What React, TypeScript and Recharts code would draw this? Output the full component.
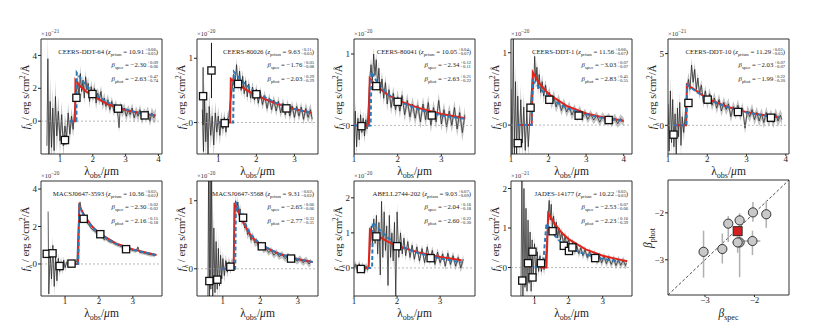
import React from 'react'
import { ComposedChart, Line, Area, Scatter, XAxis, YAxis, ReferenceLine, ReferenceArea, ErrorBar } from 'recharts'

type Pt = [number, number, number]
type XY = [number, number]

const FONT = '"Liberation Serif", "DejaVu Serif", serif'
const RED = '#e2231a'
const BLUE = '#2b7bba'

// spectra: [lambda_obs (um), f_lambda, 1 sigma]
const spec64: Pt[] = [
  [0.6, -1.5, 2], [0.63, 3.8, 1.5], [0.66, -2.2, 1.8], [0.7, 1.2, 1.5], [0.74, -1.6, 1.5], [0.78, 0.8, 1.2],
  [0.82, -1.8, 1.2], [0.86, 1.5, 1], [0.9, -0.9, 1], [0.95, 0.6, 0.9], [1.0, -1.2, 0.8], [1.05, 0.4, 0.8],
  [1.1, -1.5, 0.7], [1.15, -0.3, 0.7], [1.2, -1.0, 0.6], [1.25, 0.5, 0.6], [1.3, -0.8, 0.5], [1.35, 0.3, 0.5],
  [1.4, -0.5, 0.5], [1.45, 0.8, 0.5], [1.5, 1.8, 0.5], [1.54, 2.4, 0.5], [1.58, 1.5, 0.5], [1.62, 2.9, 0.5],
  [1.66, 1.8, 0.4], [1.7, 2.5, 0.4], [1.74, 1.4, 0.4], [1.78, 2.7, 0.4], [1.82, 1.9, 0.4], [1.86, 2.3, 0.4],
  [1.9, 1.2, 0.4], [1.95, 2.1, 0.4], [2.0, 1.5, 0.4], [2.05, 2.0, 0.4], [2.1, 1.1, 0.4], [2.15, 1.7, 0.35],
  [2.2, 1.3, 0.35], [2.25, 1.8, 0.35], [2.3, 1.0, 0.35], [2.35, 1.4, 0.35], [2.4, 0.9, 0.35], [2.46, 1.3, 0.35],
  [2.52, 0.7, 0.3], [2.58, 1.2, 0.3], [2.64, 0.6, 0.3], [2.7, 1.0, 0.3], [2.76, 0.5, 0.3], [2.8, -0.4, 0.3],
  [2.84, 0.9, 0.3], [2.9, 0.5, 0.3], [2.96, 0.8, 0.3], [3.02, 0.3, 0.3], [3.08, 0.7, 0.3], [3.14, 0.4, 0.3],
  [3.2, 0.8, 0.3], [3.26, 0.2, 0.3], [3.32, 0.6, 0.3], [3.38, 0.3, 0.3], [3.44, 0.7, 0.3], [3.5, 0.1, 0.3],
  [3.56, 0.5, 0.3], [3.62, 0.3, 0.3], [3.68, 0.6, 0.3], [3.74, 0.0, 0.3], [3.8, 0.5, 0.35], [3.86, 0.2, 0.35],
  [3.92, 0.4, 0.4],
]
const spec80026: Pt[] = [
  [0.58, 0.2, 0.3], [0.61, -0.45, 0.3], [0.64, 0.35, 0.3], [0.67, -0.3, 0.3], [0.7, 0.15, 0.25], [0.73, -0.5, 0.25],
  [0.76, 0.25, 0.25], [0.8, -0.2, 0.2], [0.84, 0.1, 0.2], [0.88, -0.35, 0.2], [0.92, 0.15, 0.18], [0.96, -0.15, 0.18],
  [1.0, 0.1, 0.15], [1.04, -0.2, 0.15], [1.08, 0.05, 0.12], [1.12, -0.1, 0.12], [1.16, 0.08, 0.1], [1.2, -0.15, 0.1],
  [1.24, 0.05, 0.1], [1.28, 0.1, 0.1], [1.32, 0.35, 0.1], [1.36, 0.5, 0.1], [1.4, 0.75, 0.1], [1.44, 0.6, 0.1],
  [1.48, 0.9, 0.1], [1.52, 0.55, 0.1], [1.56, 0.8, 0.1], [1.6, 0.5, 0.1], [1.64, 0.72, 0.1], [1.68, 0.45, 0.1],
  [1.72, 0.65, 0.09], [1.76, 0.4, 0.09], [1.8, 0.6, 0.09], [1.85, 0.38, 0.09], [1.9, 0.55, 0.09], [1.95, 0.35, 0.09],
  [2.0, 0.52, 0.08], [2.05, 0.3, 0.08], [2.1, 0.48, 0.08], [2.16, 0.28, 0.08], [2.22, 0.42, 0.08], [2.28, 0.22, 0.08],
  [2.34, 0.38, 0.08], [2.4, 0.2, 0.08], [2.46, 0.35, 0.08], [2.52, 0.18, 0.08], [2.58, 0.33, 0.08], [2.64, 0.15, 0.08],
  [2.7, 0.3, 0.08], [2.76, 0.12, 0.08], [2.82, 0.28, 0.08], [2.88, 0.1, 0.08], [2.94, 0.26, 0.08], [3.0, 0.08, 0.08],
  [3.06, 0.25, 0.08], [3.12, 0.1, 0.08], [3.18, 0.24, 0.08], [3.24, 0.05, 0.08], [3.3, 0.22, 0.09], [3.36, 0.08, 0.09],
  [3.42, 0.2, 0.1], [3.47, 0.05, 0.1],
]
const spec80041: Pt[] = [
  [1.0, -0.45, 0.15], [1.03, 0.2, 0.15], [1.06, -0.3, 0.15], [1.09, 0.1, 0.12], [1.12, -0.2, 0.12], [1.15, 0.15, 0.1],
  [1.18, -0.1, 0.1], [1.21, 0.1, 0.1], [1.24, -0.15, 0.1], [1.27, 0.08, 0.1], [1.3, -0.05, 0.1], [1.33, 0.3, 0.1],
  [1.36, 0.65, 0.1], [1.39, 0.85, 0.1], [1.42, 0.6, 0.1], [1.45, 1.0, 0.1], [1.48, 0.7, 0.1], [1.51, 0.92, 0.1],
  [1.54, 0.55, 0.1], [1.57, 0.8, 0.1], [1.6, 0.45, 0.1], [1.64, 0.65, 0.1], [1.68, 0.38, 0.1], [1.72, 0.6, 0.1],
  [1.76, 0.3, 0.1], [1.8, 0.5, 0.1], [1.85, 0.25, 0.1], [1.9, 0.45, 0.1], [1.95, 0.22, 0.1], [2.0, 0.4, 0.1],
  [2.05, 0.2, 0.1], [2.1, 0.42, 0.1], [2.16, 0.15, 0.1], [2.22, 0.35, 0.1], [2.28, 0.12, 0.1], [2.34, 0.3, 0.1],
  [2.4, 0.1, 0.1], [2.46, 0.28, 0.1], [2.52, 0.05, 0.1], [2.58, 0.3, 0.1], [2.64, 0.08, 0.1], [2.7, 0.32, 0.1],
  [2.76, 0.0, 0.1], [2.82, 0.25, 0.1], [2.88, 0.05, 0.1], [2.94, 0.35, 0.1], [3.0, 0.02, 0.1], [3.06, 0.22, 0.1],
  [3.12, -0.02, 0.1], [3.18, 0.2, 0.1], [3.24, 0.0, 0.1], [3.3, 0.25, 0.1], [3.36, -0.05, 0.1], [3.42, 0.18, 0.12],
  [3.48, -0.1, 0.12], [3.54, 0.15, 0.12],
]
const specDDT1: Pt[] = [
  [1.0, 0.5, 0.3], [1.03, -0.45, 0.3], [1.06, 1.2, 0.3], [1.09, -0.4, 0.3], [1.12, 0.6, 0.25], [1.15, -0.45, 0.25],
  [1.18, 0.4, 0.25], [1.22, -0.3, 0.2], [1.26, 0.35, 0.2], [1.3, -0.25, 0.2], [1.34, 0.25, 0.2], [1.38, -0.35, 0.2],
  [1.42, 0.2, 0.15], [1.46, -0.3, 0.15], [1.5, 0.1, 0.15], [1.54, 0.45, 0.1], [1.57, 0.65, 0.1], [1.6, 0.5, 0.1],
  [1.63, 0.95, 0.1], [1.66, 0.6, 0.1], [1.69, 0.8, 0.1], [1.72, 0.5, 0.1], [1.75, 0.7, 0.1], [1.79, 0.45, 0.1],
  [1.83, 0.6, 0.1], [1.87, 0.4, 0.1], [1.92, 0.55, 0.08], [1.97, 0.35, 0.08], [2.02, 0.45, 0.08], [2.08, 0.3, 0.08],
  [2.14, 0.4, 0.08], [2.2, 0.25, 0.08], [2.27, 0.35, 0.08], [2.34, 0.2, 0.07], [2.41, 0.3, 0.07], [2.48, 0.18, 0.07],
  [2.55, 0.26, 0.07], [2.62, 0.14, 0.07], [2.69, 0.22, 0.07], [2.76, 0.12, 0.07], [2.83, 0.2, 0.07], [2.9, 0.1, 0.07],
  [2.97, 0.17, 0.06], [3.04, 0.08, 0.06], [3.12, 0.15, 0.06], [3.2, 0.07, 0.06], [3.28, 0.13, 0.06], [3.36, 0.04, 0.06],
  [3.44, 0.12, 0.06], [3.52, 0.05, 0.06], [3.6, 0.11, 0.06], [3.68, 0.03, 0.06], [3.76, 0.1, 0.06], [3.84, 0.02, 0.06],
  [3.92, 0.09, 0.06], [4.0, 0.04, 0.06],
]
const specDDT10: Pt[] = [
  [1.0, 1.5, 1.0], [1.03, -1.8, 1.0], [1.06, 2.4, 1.0], [1.09, -1.2, 0.9], [1.12, 1.8, 0.9], [1.15, -1.5, 0.9],
  [1.18, 0.8, 0.8], [1.21, -2.0, 0.8], [1.24, 1.2, 0.7], [1.27, -0.8, 0.7], [1.3, 1.6, 0.7], [1.33, -1.4, 0.7],
  [1.36, 0.6, 0.6], [1.4, -0.5, 0.6], [1.44, 0.8, 0.6], [1.48, 2.4, 0.5], [1.52, 3.2, 0.5], [1.56, 2.5, 0.5],
  [1.6, 4.2, 0.5], [1.64, 3.0, 0.5], [1.68, 3.9, 0.5], [1.72, 2.5, 0.4], [1.76, 3.3, 0.4], [1.8, 2.2, 0.4],
  [1.85, 2.8, 0.4], [1.9, 1.6, 0.4], [1.95, 2.4, 0.4], [2.0, 1.5, 0.4], [2.06, 2.2, 0.4], [2.12, 1.4, 0.4],
  [2.18, 1.9, 0.4], [2.24, 1.2, 0.4], [2.3, 1.8, 0.4], [2.36, 1.0, 0.4], [2.42, 1.6, 0.4], [2.48, 1.1, 0.4],
  [2.54, 1.5, 0.4], [2.6, 0.6, 0.4], [2.66, 1.3, 0.4], [2.72, 0.8, 0.4], [2.78, 1.4, 0.4], [2.84, 0.7, 0.4],
  [2.9, 1.2, 0.4], [2.96, -0.2, 0.4], [3.02, 1.0, 0.4], [3.08, 0.6, 0.4], [3.14, 1.1, 0.4], [3.2, 0.4, 0.4],
  [3.26, 0.9, 0.4], [3.32, 0.3, 0.4], [3.38, 0.8, 0.4], [3.44, 0.2, 0.4], [3.5, 0.9, 0.4], [3.56, 0.3, 0.4],
  [3.62, 0.7, 0.4], [3.68, 0.2, 0.4], [3.74, 0.8, 0.4], [3.8, 0.3, 0.4], [3.86, 0.7, 0.4], [3.9, 0.4, 0.4],
]
const spec3593: Pt[] = [
  [0.5, 2.8, 0.5], [0.52, -1.6, 0.5], [0.56, 0.6, 0.5], [0.6, -0.8, 0.5], [0.64, 1.0, 0.5], [0.68, -1.2, 0.5],
  [0.72, 0.4, 0.4], [0.76, -0.9, 0.4], [0.8, 0.3, 0.3], [0.84, -0.4, 0.3], [0.88, 0.1, 0.3], [0.92, -0.3, 0.25],
  [0.96, 0.2, 0.2], [1.0, -0.2, 0.2], [1.05, 0.1, 0.15], [1.1, -0.1, 0.15], [1.15, 0.05, 0.12], [1.2, -0.05, 0.1],
  [1.25, 0.08, 0.1], [1.3, 0.0, 0.1], [1.35, 0.2, 0.1], [1.38, 1.5, 0.1], [1.41, 2.9, 0.1], [1.44, 3.3, 0.1],
  [1.47, 3.0, 0.1], [1.5, 2.8, 0.1], [1.55, 2.6, 0.1], [1.6, 2.4, 0.1], [1.65, 2.2, 0.1], [1.7, 2.1, 0.1],
  [1.75, 1.95, 0.1], [1.8, 1.85, 0.1], [1.85, 1.8, 0.1], [1.9, 1.7, 0.1], [1.95, 1.65, 0.1], [2.0, 1.6, 0.1],
  [2.05, 1.5, 0.1], [2.1, 1.45, 0.1], [2.15, 1.3, 0.1], [2.2, 1.35, 0.1], [2.3, 1.2, 0.1], [2.4, 1.15, 0.1],
  [2.5, 1.05, 0.1], [2.6, 0.98, 0.1], [2.7, 0.9, 0.1], [2.8, 0.82, 0.1], [2.9, 0.8, 0.1], [3.0, 0.72, 0.1],
  [3.1, 0.7, 0.1], [3.15, 0.9, 0.1], [3.2, 0.62, 0.1], [3.3, 0.6, 0.1], [3.4, 0.55, 0.1], [3.5, 0.5, 0.1],
  [3.6, 0.48, 0.1], [3.65, 0.44, 0.1],
]
const spec3568: Pt[] = [
  [0.6, -0.45, 0.3], [0.62, 1.5, 0.3], [0.64, -0.45, 0.3], [0.66, 1.5, 0.3], [0.68, -0.3, 0.3], [0.7, 1.4, 0.3],
  [0.73, -0.45, 0.3], [0.76, 0.6, 0.25], [0.79, -0.35, 0.25], [0.82, 0.4, 0.2], [0.85, -0.3, 0.2], [0.88, 0.3, 0.2],
  [0.91, -0.25, 0.15], [0.94, 0.2, 0.15], [0.97, -0.15, 0.12], [1.0, 0.15, 0.12], [1.04, -0.1, 0.1], [1.08, 0.12, 0.1],
  [1.12, -0.05, 0.08], [1.16, 0.1, 0.08], [1.2, 0.0, 0.08], [1.24, 0.08, 0.08], [1.28, 0.05, 0.08], [1.31, 0.6, 0.08],
  [1.34, 1.0, 0.08], [1.37, 0.85, 0.08], [1.4, 0.98, 0.08], [1.43, 0.8, 0.08], [1.46, 0.88, 0.08], [1.5, 0.7, 0.07],
  [1.54, 0.78, 0.07], [1.58, 0.6, 0.07], [1.62, 0.65, 0.07], [1.66, 0.5, 0.07], [1.7, 0.55, 0.07], [1.75, 0.42, 0.06],
  [1.8, 0.48, 0.06], [1.85, 0.38, 0.06], [1.9, 0.4, 0.06], [1.96, 0.32, 0.05], [2.02, 0.36, 0.05], [2.08, 0.28, 0.05],
  [2.15, 0.3, 0.05], [2.22, 0.24, 0.05], [2.29, 0.27, 0.05], [2.36, 0.2, 0.05], [2.43, 0.24, 0.05], [2.5, 0.18, 0.05],
  [2.58, 0.21, 0.05], [2.66, 0.15, 0.05], [2.74, 0.19, 0.05], [2.82, 0.13, 0.05], [2.9, 0.17, 0.05], [2.98, 0.11, 0.05],
  [3.06, 0.15, 0.05], [3.14, 0.09, 0.05], [3.22, 0.13, 0.05], [3.3, 0.07, 0.05], [3.35, 0.1, 0.05],
]
const spec202: Pt[] = [
  [1.0, 0.0, 0.1], [1.04, 0.1, 0.1], [1.08, -0.08, 0.1], [1.12, 0.12, 0.1], [1.16, -0.05, 0.1], [1.2, 0.08, 0.1],
  [1.24, -0.1, 0.1], [1.28, 0.05, 0.1], [1.32, -0.05, 0.1], [1.36, 0.3, 0.12], [1.4, 1.2, 0.15], [1.43, 0.6, 0.15],
  [1.46, 1.4, 0.15], [1.49, 0.7, 0.15], [1.52, 1.5, 0.15], [1.55, 0.4, 0.2], [1.58, 1.3, 0.2], [1.61, -0.2, 0.25],
  [1.64, 1.9, 0.25], [1.67, 0.3, 0.25], [1.7, 1.6, 0.25], [1.73, 0.5, 0.25], [1.76, 1.2, 0.2], [1.79, -0.5, 0.3],
  [1.82, 1.5, 0.25], [1.85, 0.3, 0.25], [1.88, 1.0, 0.2], [1.91, 0.2, 0.25], [1.94, 1.3, 0.25], [1.97, -0.85, 0.3],
  [2.0, 1.6, 0.25], [2.04, 0.3, 0.2], [2.08, 1.0, 0.15], [2.12, 0.4, 0.15], [2.16, 0.85, 0.15], [2.2, 0.35, 0.15],
  [2.25, 0.75, 0.12], [2.3, 0.3, 0.12], [2.35, 0.65, 0.12], [2.4, 0.25, 0.12], [2.46, 0.6, 0.12], [2.52, 0.2, 0.12],
  [2.58, 0.55, 0.12], [2.64, 0.15, 0.12], [2.7, 0.6, 0.12], [2.76, 0.2, 0.12], [2.82, 0.5, 0.12], [2.88, 0.1, 0.12],
  [2.94, 0.45, 0.12], [3.0, 0.15, 0.12], [3.06, 0.4, 0.12], [3.12, 0.05, 0.12], [3.18, 0.42, 0.12], [3.24, 0.1, 0.12],
  [3.3, 0.35, 0.12], [3.36, 0.05, 0.12], [3.42, 0.3, 0.12], [3.48, 0.0, 0.12], [3.54, 0.25, 0.12],
]
const spec14177: Pt[] = [
  [0.6, -0.75, 0.4], [0.63, 2.3, 0.4], [0.66, -0.75, 0.4], [0.69, 2.0, 0.4], [0.72, -0.5, 0.4], [0.75, 1.5, 0.35],
  [0.78, -0.6, 0.35], [0.81, 1.2, 0.3], [0.84, -0.4, 0.3], [0.87, 0.9, 0.3], [0.9, -0.6, 0.3], [0.93, 0.7, 0.25],
  [0.96, -0.3, 0.25], [1.0, 0.6, 0.2], [1.04, -0.2, 0.2], [1.08, 0.4, 0.2], [1.12, -0.1, 0.15], [1.16, 0.3, 0.15],
  [1.2, -0.1, 0.15], [1.24, 0.2, 0.15], [1.28, -0.05, 0.15], [1.32, 0.2, 0.15], [1.36, 0.6, 0.15], [1.4, 1.3, 0.15],
  [1.43, 1.7, 0.15], [1.46, 1.2, 0.15], [1.49, 1.6, 0.15], [1.52, 1.0, 0.15], [1.56, 1.3, 0.15], [1.6, 0.9, 0.15],
  [1.64, 1.15, 0.12], [1.68, 0.75, 0.12], [1.72, 1.0, 0.12], [1.76, 0.7, 0.12], [1.8, 0.9, 0.12], [1.85, 0.6, 0.12],
  [1.9, 0.8, 0.12], [1.95, 0.5, 0.12], [2.0, 0.72, 0.12], [2.06, 0.45, 0.1], [2.12, 0.65, 0.1], [2.18, 0.4, 0.1],
  [2.24, 0.55, 0.1], [2.3, 0.35, 0.1], [2.36, 0.5, 0.1], [2.42, 0.3, 0.1], [2.48, 0.45, 0.1], [2.55, 0.25, 0.1],
  [2.62, 0.4, 0.1], [2.69, 0.2, 0.1], [2.76, 0.35, 0.1], [2.83, 0.15, 0.1], [2.9, 0.3, 0.1], [2.97, 0.12, 0.1],
  [3.04, 0.28, 0.1], [3.11, 0.1, 0.1], [3.18, 0.25, 0.1], [3.25, 0.08, 0.1], [3.32, 0.22, 0.1], [3.39, 0.05, 0.1],
  [3.46, 0.2, 0.1], [3.53, 0.06, 0.1], [3.6, 0.18, 0.1], [3.67, 0.05, 0.1], [3.7, 0.12, 0.1],
]

// UV slope fits: red = photometric beta, blue dashed = spectroscopic beta
const red64: XY[] = [[1.3, 0], [1.46, 0], [1.47, 2.5], [1.6, 2.15], [1.8, 1.8], [2.0, 1.55], [2.25, 1.25], [2.5, 1.0], [2.75, 0.83], [3.0, 0.68], [3.25, 0.57], [3.5, 0.47], [3.75, 0.39], [3.9, 0.35]]
const blue64: XY[] = [[1.3, 0], [1.5, 0], [1.51, 2.95], [1.7, 2.4], [2.0, 1.75], [2.25, 1.38], [2.5, 1.1], [2.75, 0.88], [3.0, 0.72], [3.25, 0.58], [3.5, 0.48], [3.75, 0.4], [3.9, 0.35]]
const red80026: XY[] = [[1.0, 0], [1.31, 0], [1.33, 0.68], [1.5, 0.6], [1.75, 0.5], [2.0, 0.42], [2.5, 0.3], [3.0, 0.21], [3.45, 0.15]]
const blue80026: XY[] = [[1.0, 0], [1.39, 0], [1.41, 0.79], [1.6, 0.66], [1.8, 0.55], [2.0, 0.46], [2.5, 0.31], [3.0, 0.21], [3.45, 0.15]]
const red80041: XY[] = [[1.0, 0], [1.34, 0], [1.36, 0.66], [1.5, 0.56], [1.75, 0.44], [2.0, 0.35], [2.5, 0.24], [3.0, 0.16], [3.55, 0.1]]
const blue80041: XY[] = [[1.0, 0], [1.38, 0], [1.4, 0.75], [1.55, 0.58], [1.75, 0.45], [2.0, 0.34], [2.5, 0.22], [3.0, 0.14], [3.55, 0.09]]
const redDDT1: XY[] = [[1.15, 0], [1.55, 0], [1.58, 0.73], [1.75, 0.58], [2.0, 0.43], [2.5, 0.26], [3.0, 0.16], [3.5, 0.1], [4.0, 0.06]]
const blueDDT1: XY[] = [[1.15, 0], [1.55, 0], [1.58, 0.61], [1.75, 0.52], [2.0, 0.38], [2.5, 0.23], [3.0, 0.15], [3.5, 0.09], [4.0, 0.06]]
const redDDT10: XY[] = [[1.15, 0], [1.46, 0], [1.48, 2.85], [1.75, 2.35], [2.0, 1.85], [2.5, 1.3], [3.0, 0.92], [3.5, 0.68], [3.85, 0.55]]
const blueDDT10: XY[] = [[1.15, 0], [1.47, 0], [1.49, 2.8], [1.75, 2.3], [2.0, 1.82], [2.5, 1.28], [3.0, 0.9], [3.5, 0.66], [3.85, 0.54]]
const red3593: XY[] = [[1.15, 0], [1.38, 0], [1.42, 3.1], [1.6, 2.5], [1.8, 2.0], [2.0, 1.65], [2.5, 1.1], [3.0, 0.78], [3.5, 0.56], [3.7, 0.48]]
const blue3593: XY[] = [[1.15, 0], [1.39, 0], [1.42, 3.05], [1.6, 2.45], [1.8, 1.98], [2.0, 1.62], [2.5, 1.08], [3.0, 0.76], [3.5, 0.55], [3.7, 0.47]]
const red3568: XY[] = [[0.95, 0], [1.29, 0], [1.31, 0.97], [1.5, 0.72], [1.75, 0.48], [2.0, 0.35], [2.5, 0.22], [3.0, 0.14], [3.4, 0.1]]
const blue3568: XY[] = [[0.95, 0], [1.33, 0], [1.35, 0.98], [1.5, 0.76], [1.75, 0.5], [2.0, 0.36], [2.5, 0.22], [3.0, 0.14], [3.4, 0.1]]
const red202: XY[] = [[1.15, 0], [1.34, 0], [1.37, 1.1], [1.5, 0.95], [1.75, 0.77], [2.0, 0.63], [2.5, 0.44], [3.0, 0.31], [3.5, 0.22]]
const blue202: XY[] = [[1.15, 0], [1.42, 0], [1.44, 1.3], [1.6, 1.08], [1.8, 0.85], [2.0, 0.66], [2.5, 0.42], [3.0, 0.27], [3.5, 0.16]]
const red14177: XY[] = [[1.15, 0], [1.35, 0], [1.4, 1.37], [1.6, 1.1], [1.8, 0.88], [2.0, 0.72], [2.5, 0.46], [3.0, 0.3], [3.5, 0.2], [3.72, 0.16]]
const blue14177: XY[] = [[1.0, 0], [1.25, 0.05], [1.3, 0.6], [1.35, 1.12], [1.6, 0.8], [1.8, 0.62], [2.0, 0.5], [2.5, 0.33], [3.0, 0.22], [3.5, 0.15]]

// photometry: [lambda, flux, error]
const phot64: Pt[] = [[1.15, -1.15, 0.3], [1.5, 1.42, 0.2], [1.99, 1.65, 0.15], [2.77, 0.76, 0.1], [3.58, 0.35, 0.1]]
const phot80026: Pt[] = [[0.6, 0.41, 0.45], [0.82, 0.81, 0.43], [1.17, -0.01, 0.06], [1.52, 0.6, 0.04], [2.0, 0.44, 0.03], [2.79, 0.22, 0.03]]
const phot80041: Pt[] = [[1.17, -0.01, 0.03], [1.51, 0.55, 0.03], [2.0, 0.33, 0.02], [2.78, 0.14, 0.02]]
const photDDT1: Pt[] = [[1.18, -0.25, 0.05], [1.52, 0.24, 0.03], [2.02, 0.35, 0.02], [2.8, 0.13, 0.02], [3.6, 0.07, 0.02]]
const photDDT10: Pt[] = [[1.14, -0.65, 0.3], [1.52, 1.56, 0.2], [2.01, 1.79, 0.15], [2.78, 0.93, 0.1], [3.62, 0.53, 0.1]]
const phot3593: Pt[] = [[0.46, 0.54, 0.1], [0.63, 0.57, 0.1], [0.84, -0.11, 0.08], [1.19, 0.02, 0.05], [1.55, 2.41, 0.05], [2.04, 1.59, 0.05], [2.8, 0.79, 0.04]]
const phot3568: Pt[] = [[0.64, -0.18, 0.05], [0.85, -0.16, 0.04], [1.2, 0.03, 0.03], [1.54, 0.75, 0.03], [2.04, 0.33, 0.02], [2.82, 0.15, 0.02]]
const phot202: Pt[] = [[1.16, -0.03, 0.05], [1.52, 0.9, 0.05], [2.0, 0.62, 0.04], [2.78, 0.28, 0.03]]
const phot14177: Pt[] = [[0.64, -0.33, 0.08], [0.81, 0.11, 0.1], [0.94, 0.4, 0.08], [0.94, -0.25, 0.08], [1.19, 0.11, 0.06], [1.53, 0.92, 0.05], [1.86, 0.55, 0.04], [2.01, 0.42, 0.04], [2.11, 0.51, 0.04], [2.78, 0.24, 0.03]]

// labels
const names = ['CEERS-DDT-64', 'CEERS-80026', 'CEERS-80041', 'CEERS-DDT-1', 'CEERS-DDT-10', 'MACSJ0647-3593', 'MACSJ0647-3568', 'ABELL2744-202', 'JADES-14177']
const zPrism = [['10.91', '+0.06', '−0.05'], ['9.63', '+0.11', '−0.03'], ['10.05', '+0.04', '−0.07'], ['11.56', '+0.06', '−0.07'], ['11.29', '+0.02', '−0.03'], ['10.36', '+0.02', '−0.02'], ['9.31', '+0.02', '−0.02'], ['9.03', '+0.07', '−0.09'], ['10.22', '+0.02', '−0.03']]
const betaSpec = [-2.30, -1.76, -2.34, -3.03, -2.03, -2.30, -2.65, -2.04, -2.53]
const betaSpecErr = [[0.09, 0.06], [0.05, 0.08], [0.12, 0.11], [0.07, 0.07], [0.07, 0.07], [0.02, 0.02], [0.06, 0.06], [0.16, 0.18], [0.07, 0.06]]
const betaPhot = [-2.63, -2.03, -2.63, -2.83, -1.99, -2.16, -2.77, -2.60, -2.23]
const betaPhotErr = [[0.47, 0.74], [0.29, 0.29], [0.21, 0.22], [0.45, 0.55], [0.22, 0.20], [0.15, 0.18], [0.33, 0.31], [0.22, 0.30], [0.16, 0.39]]
const betaMean = [-2.34, -2.39]
const betaRange = [-3.75, -1.3]

const spectra = [spec64, spec80026, spec80041, specDDT1, specDDT10, spec3593, spec3568, spec202, spec14177]
const redFits = [red64, red80026, red80041, redDDT1, redDDT10, red3593, red3568, red202, red14177]
const blueFits = [blue64, blue80026, blue80041, blueDDT1, blueDDT10, blue3593, blue3568, blue202, blue14177]
const photometry = [phot64, phot80026, phot80041, photDDT1, photDDT10, phot3593, phot3568, phot202, phot14177]
const xDomains = [[0.42, 4.11], [0.44, 3.62], [1.0, 3.77], [1.0, 4.22], [1.0, 4.08], [0.29, 3.86], [0.31, 3.54], [1.0, 3.81], [0.31, 3.86]]
const yDomains = [[-2.0, 5.0], [-0.49, 1.3], [-0.4, 1.21], [-0.4, 1.19], [-2.0, 6.02], [-1.71, 4.43], [-0.4, 1.29], [-0.8, 2.48], [-0.72, 2.19]]
const yTicks = [[0, 2, 4], [0, 1], [0, 1], [0, 1], [0, 5], [0, 2, 4], [0, 1], [0, 1, 2], [0, 1, 2]]
const exponents = ['−21', '−20', '−20', '−20', '−21', '−20', '−20', '−20', '−21']

// layout
const LEFTS = [41, 197, 354, 511, 668]
const TOPS = [39, 181]
const PW = 121
const PH = 115

const tickStyle = { fontSize: 9, fill: '#222', fontFamily: FONT }
const fmt = (v: number) => String(v).replace('-', '−')
const sgn = (v: number) => v.toFixed(2).replace('-', '−')

const Square = (props: any) => (
  <rect x={props.cx - 3.6} y={props.cy - 3.6} width={7.2} height={7.2} fill="#fff" stroke="#111" strokeWidth={1.3} />
)
const Circle = (props: any) => (
  <circle cx={props.cx} cy={props.cy} r={4.6} fill="#c9c9c9" stroke="#222" strokeWidth={0.9} />
)
const RedSquare = (props: any) => (
  <rect x={props.cx - 4.5} y={props.cy - 4.5} width={9} height={9} fill="#d42020" stroke="#222" strokeWidth={0.9} />
)

function PM({ up, lo }: { up: string; lo: string }) {
  return (
    <span style={{ display: 'inline-flex', flexDirection: 'column', fontSize: '0.68em', lineHeight: '0.95', verticalAlign: 'middle', textAlign: 'left', marginLeft: 1 }}>
      <span>{up}</span>
      <span>{lo}</span>
    </span>
  )
}

function SpecPanel({ i }: { i: number }) {
  const left = LEFTS[i % 5]
  const top = TOPS[Math.floor(i / 5)]
  const [x0, x1] = xDomains[i]
  const [y0, y1] = yDomains[i]
  const band = spectra[i].map(([x, y, e]) => ({ x, band: [y - e, y + e] }))
  const flux = spectra[i].map(([x, y]) => ({ x, y }))
  const red = redFits[i].map(([x, y]) => ({ x, y }))
  const blue = blueFits[i].map(([x, y]) => ({ x, y }))
  const phot = photometry[i].map(([x, y, err]) => ({ x, y, err }))
  const xt = [1, 2, 3, 4].filter(t => t >= x0 && t <= x1)
  const right = 830 - (left + PW - 4)
  const lineStyle: React.CSSProperties = { position: 'absolute', right, whiteSpace: 'nowrap', fontSize: 6.8, lineHeight: '10px', height: 10, fontFamily: FONT, color: '#222' }
  return (
    <>
      <div style={{ position: 'absolute', left: left - 40, top: top - 10 }}>
        <ComposedChart width={166} height={145} margin={{ top: 10, right: 5, bottom: 0, left: 0 }}>
          <XAxis type="number" dataKey="x" domain={[x0, x1]} allowDataOverflow ticks={xt} height={20}
            tick={tickStyle} tickSize={2} tickMargin={0} tickLine={{ stroke: '#222' }} axisLine={false} interval={0} />
          <YAxis type="number" dataKey="y" domain={[y0, y1]} allowDataOverflow ticks={yTicks[i]} width={40}
            tick={tickStyle} tickSize={3} tickMargin={1} tickLine={{ stroke: '#222' }} axisLine={false} interval={0} tickFormatter={fmt} />
          <Area data={band} dataKey="band" type="linear" stroke="none" fill="#c2c2c2" fillOpacity={1} isAnimationActive={false} />
          <Line data={flux} dataKey="y" type="linear" stroke="#1e1e1e" strokeWidth={0.7} dot={false} isAnimationActive={false} />
          <ReferenceLine y={0} stroke="#9a9a9a" strokeDasharray="2 2" strokeWidth={0.7} />
          <Line data={red} dataKey="y" type="linear" stroke={RED} strokeWidth={2} dot={false} isAnimationActive={false} />
          <Line data={blue} dataKey="y" type="linear" stroke={BLUE} strokeWidth={2} strokeDasharray="4 2.5" dot={false} isAnimationActive={false} />
          <Scatter data={phot} dataKey="y" shape={Square} isAnimationActive={false}>
            <ErrorBar dataKey="err" direction="y" width={0} stroke="#111" strokeWidth={1} />
          </Scatter>
          <ReferenceArea x1={x0} x2={x1} y1={y0} y2={y1} fill="none" stroke="#333" strokeWidth={1} ifOverflow="visible" />
        </ComposedChart>
      </div>
      <div style={{ position: 'absolute', left, top: top - 11, fontSize: 6.5, fontFamily: FONT, color: '#333' }}>
        ×10<sup style={{ fontSize: '0.8em' }}>{exponents[i]}</sup>
      </div>
      <div style={{ ...lineStyle, top: top + 8 }}>
        {names[i]} (<i>z</i><sub style={{ fontSize: '0.7em' }}>prism</sub> = {zPrism[i][0]}<PM up={zPrism[i][1]} lo={zPrism[i][2]} />)
      </div>
      <div style={{ ...lineStyle, top: top + 21 }}>
        <i>β</i><sub style={{ fontSize: '0.7em' }}>spec</sub> = {sgn(betaSpec[i])}<PM up={'+' + betaSpecErr[i][0].toFixed(2)} lo={'−' + betaSpecErr[i][1].toFixed(2)} />
      </div>
      <div style={{ ...lineStyle, top: top + 35 }}>
        <i>β</i><sub style={{ fontSize: '0.7em' }}>phot</sub> = {sgn(betaPhot[i])}<PM up={'+' + betaPhotErr[i][0].toFixed(2)} lo={'−' + betaPhotErr[i][1].toFixed(2)} />
      </div>
      <div style={{ position: 'absolute', left, width: PW, top: top + PH + 11, height: 12, lineHeight: '12px', textAlign: 'center', fontSize: 11.5, fontFamily: FONT, color: '#222' }}>
        λ<sub style={{ fontSize: '0.7em', lineHeight: 0 }}>obs</sub>/<i>μ</i>m
      </div>
      <div style={{ position: 'absolute', left: left - 17 - PH / 2, width: PH, top: top + PH / 2 - 7, height: 14, textAlign: 'center', transform: 'rotate(-90deg)', fontSize: 10.5, fontFamily: FONT, color: '#222', whiteSpace: 'nowrap' }}>
        <i>f</i><sub style={{ fontSize: '0.7em' }}>λ</sub> / erg s/cm<sup style={{ fontSize: '0.7em' }}>2</sup>/Å
      </div>
    </>
  )
}

function BetaPanel() {
  const left = LEFTS[4]
  const top = TOPS[1] - 1
  const pts = names.map((n, k) => ({
    spec: betaSpec[k], phot: betaPhot[k],
    ex: [betaSpecErr[k][1], betaSpecErr[k][0]], ey: [betaPhotErr[k][1], betaPhotErr[k][0]],
  }))
  const mean = [{ spec: betaMean[0], phot: betaMean[1] }]
  const diag = betaRange.map(v => ({ spec: v, phot: v }))
  return (
    <>
      <div style={{ position: 'absolute', left: left - 40, top: top - 10 }}>
        <ComposedChart width={166} height={145} margin={{ top: 10, right: 5, bottom: 0, left: 0 }}>
          <XAxis type="number" dataKey="spec" domain={betaRange} allowDataOverflow ticks={[-3, -2]} height={20}
            tick={tickStyle} tickSize={2} tickMargin={0} tickLine={{ stroke: '#222' }} axisLine={false} tickFormatter={fmt} />
          <YAxis type="number" dataKey="phot" domain={betaRange} allowDataOverflow ticks={[-3, -2]} width={40}
            tick={tickStyle} tickSize={3} tickMargin={1} tickLine={{ stroke: '#222' }} axisLine={false} tickFormatter={fmt} />
          <Line data={diag} dataKey="phot" type="linear" stroke="#222" strokeWidth={0.8} strokeDasharray="3 2" dot={false} isAnimationActive={false} />
          <Scatter data={pts} dataKey="phot" shape={Circle} isAnimationActive={false}>
            <ErrorBar dataKey="ey" direction="y" width={0} stroke="#b0b0b0" strokeWidth={1.5} />
            <ErrorBar dataKey="ex" direction="x" width={0} stroke="#b0b0b0" strokeWidth={1.5} />
          </Scatter>
          <Scatter data={mean} dataKey="phot" shape={RedSquare} isAnimationActive={false} />
          <ReferenceArea x1={betaRange[0]} x2={betaRange[1]} y1={betaRange[0]} y2={betaRange[1]} fill="none" stroke="#333" strokeWidth={1} ifOverflow="visible" />
        </ComposedChart>
      </div>
      <div style={{ position: 'absolute', left, width: PW, top: top + PH + 12, height: 12, lineHeight: '12px', textAlign: 'center', fontSize: 11.5, fontFamily: FONT, color: '#222' }}>
        <i>β</i><sub style={{ fontSize: '0.7em', lineHeight: 0 }}>spec</sub>
      </div>
      <div style={{ position: 'absolute', left: left - 20 - PH / 2, width: PH, top: top + PH / 2 - 7, height: 14, textAlign: 'center', transform: 'rotate(-90deg)', fontSize: 11.5, fontFamily: FONT, color: '#222' }}>
        <i>β</i><sub style={{ fontSize: '0.7em' }}>phot</sub>
      </div>
    </>
  )
}

export default function App() {
  return (
    <div style={{ position: 'absolute', left: 0, top: 0, width: 830, height: 332, background: '#fff', overflow: 'hidden' }}>
      {names.map((n, i) => <SpecPanel key={n} i={i} />)}
      <BetaPanel />
    </div>
  )
}
